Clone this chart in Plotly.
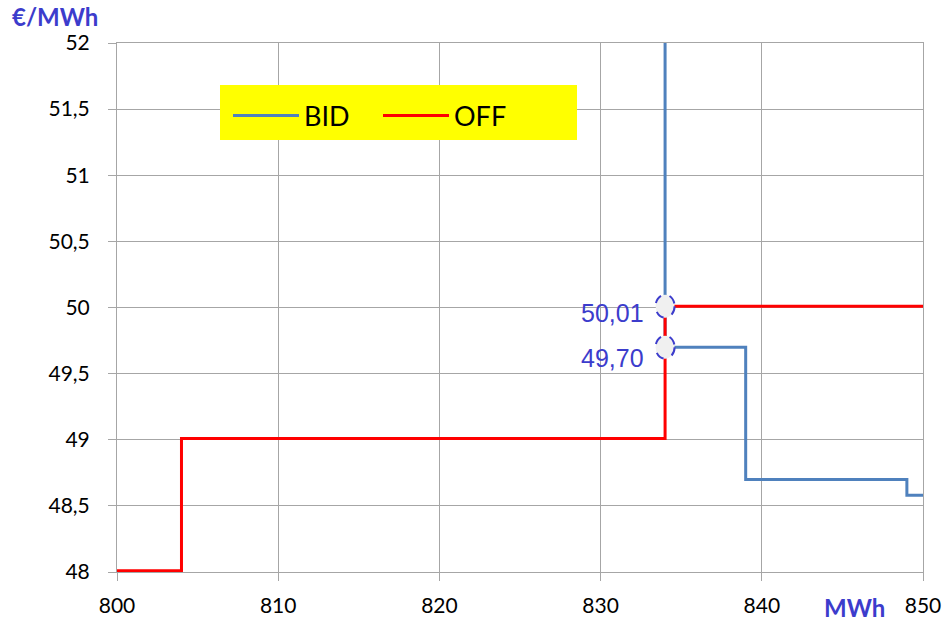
import plotly.graph_objects as go

# Data
bid_mwh = [834, 834, 839, 849, 850]
bid_price = [55.0, 49.70, 48.70, 48.58, 48.58]
off_mwh = [800, 804, 834, 850]
off_price = [48.01, 49.01, 50.01, 50.01]
mark_mwh = [834, 834]
mark_price = [50.01, 49.70]
x_ticks = [800, 810, 820, 830, 840, 850]
y_ticks = [48, 48.5, 49, 49.5, 50, 50.5, 51, 51.5, 52]

BLUE = "#4f81bd"
RED = "#ff0000"
LABEL = "#3c3ccc"
GRID = "#a6a6a6"

# plot-area geometry (px) used to place paper-referenced items
PL, PT, PW, PH = 117, 43, 806, 529
def px(X):
    return (X - PL) / PW
def py(Y):
    return (PT + PH - Y) / PH

fig = go.Figure()
fig.add_trace(go.Scatter(x=bid_mwh, y=bid_price, mode="lines", name="BID",
                         line=dict(color=BLUE, width=3, shape="hv")))
fig.add_trace(go.Scatter(x=off_mwh, y=off_price, mode="lines", name="OFF",
                         line=dict(color=RED, width=3, shape="hv")))

shapes = [dict(type="rect", xref="paper", yref="paper", x0=px(220), x1=px(577),
               y0=py(140), y1=py(85), fillcolor="#ffff00", line=dict(width=0), layer="above")]
annotations = []
yshifts = [-7, -11]
for mx, my, ys in zip(mark_mwh, mark_price, yshifts):
    shapes.append(dict(type="circle", xref="x", yref="y", xsizemode="pixel", ysizemode="pixel",
                       xanchor=mx, yanchor=my, x0=-9.5, x1=9.5, y0=-11.5, y1=11.5,
                       line=dict(color=LABEL, width=2, dash="dash"), fillcolor="#f0f0f0"))
    annotations.append(dict(x=mx, y=my, xref="x", yref="y", text=f"{my:.2f}".replace(".", ","),
                            showarrow=False, xanchor="right", yanchor="middle", xshift=-19, yshift=ys,
                            font=dict(family="Liberation Sans", size=25, color=LABEL)))

annotations.append(dict(xref="paper", yref="paper", x=px(10), y=py(17), xanchor="left",
                        yanchor="middle", text="<b>€/MWh</b>", showarrow=False,
                        font=dict(family="Lato", size=24, color=LABEL)))
annotations.append(dict(xref="paper", yref="paper", x=px(854), y=py(607), xanchor="center",
                        yanchor="middle", text="<b>MWh</b>", showarrow=False,
                        font=dict(family="Lato", size=24, color=LABEL)))

fig.update_layout(
    width=946, height=623,
    margin=dict(l=117, r=23, t=43, b=51, autoexpand=False),
    paper_bgcolor="white", plot_bgcolor="white",
    separators=", ",
    font=dict(family="Lato", size=21, color="black"),
    showlegend=True,
    legend=dict(orientation="h", x=px(228), y=py(116),
                xanchor="left", yanchor="middle", bgcolor="rgba(0,0,0,0)",
                borderwidth=0, font=dict(family="Lato", size=27, color="black"),
                itemwidth=66, entrywidth=69, entrywidthmode="pixels"),
    shapes=shapes,
    annotations=annotations,
)
fig.update_xaxes(range=[800, 850], tickvals=x_ticks, showgrid=True, gridcolor=GRID, gridwidth=1,
                 showline=True, linecolor=GRID, mirror=True, ticks="outside", ticklen=8,
                 tickcolor=GRID, ticklabelstandoff=7, zeroline=False, automargin=False)
fig.update_yaxes(range=[48, 52], tickvals=y_ticks, showgrid=True, gridcolor=GRID, gridwidth=1,
                 showline=True, linecolor=GRID, mirror=True, ticks="outside", ticklen=8,
                 tickcolor=GRID, ticklabelstandoff=14, zeroline=False, automargin=False)

fig.write_html("out.html", config={"displayModeBar": False},
               post_script="document.body.style.margin='0px';")
